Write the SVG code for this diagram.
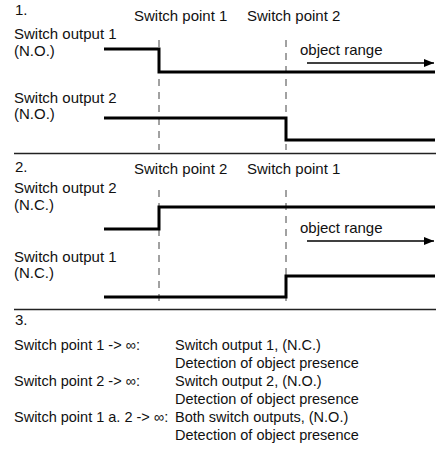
<svg xmlns="http://www.w3.org/2000/svg" width="442" height="452" viewBox="0 0 442 452">
<style>
text{font-family:"Liberation Sans",Arial,Helvetica,sans-serif;font-size:15px;fill:#111}
.t3{font-size:14.5px}
.sig{fill:none;stroke:#000;stroke-width:3}
.sep{stroke:#222;stroke-width:1.5}
.dash{stroke:#444;stroke-width:1;stroke-dasharray:7 6}
.arr{stroke:#000;stroke-width:1.5}
</style>
<defs>
<marker id="ah" viewBox="0 0 10 8" refX="10" refY="4" markerWidth="10" markerHeight="8" markerUnits="userSpaceOnUse" orient="auto">
<path d="M0,0 L10,4 L0,8 Z" fill="#000"/>
</marker>
</defs>
<g id="connectors">
<line class="dash" x1="159" y1="40" x2="159" y2="150"/>
<line class="dash" x1="286" y1="40" x2="286" y2="150"/>
<line class="dash" x1="159" y1="190" x2="159" y2="306"/>
<line class="dash" x1="286" y1="190" x2="286" y2="306"/>
<line class="sep" x1="14" y1="153.5" x2="436" y2="153.5"/>
<line class="sep" x1="14" y1="309.5" x2="436" y2="309.5"/>
<line class="arr" x1="307" y1="63" x2="434" y2="63" marker-end="url(#ah)"/>
<line class="arr" x1="307" y1="241" x2="434" y2="241" marker-end="url(#ah)"/>
</g>
<g id="section1">
<text x="15" y="15">1.</text>
<text x="134" y="21">Switch point 1</text>
<text x="247" y="21">Switch point 2</text>
<text x="14" y="39">Switch output 1</text>
<text x="14" y="56">(N.O.)</text>
<text x="300" y="55">object range</text>
<path class="sig" d="M104,49 H159 V72 H435"/>
<text x="14" y="103">Switch output 2</text>
<text x="14" y="119">(N.O.)</text>
<path class="sig" d="M104,118 H286 V140 H435"/>
</g>
<g id="section2">
<text x="15" y="172">2.</text>
<text x="134" y="174">Switch point 2</text>
<text x="247" y="174">Switch point 1</text>
<text x="14" y="193">Switch output 2</text>
<text x="14" y="210">(N.C.)</text>
<path class="sig" d="M104,229 H159 V207 H435"/>
<text x="300" y="233">object range</text>
<text x="14" y="262">Switch output 1</text>
<text x="14" y="278">(N.C.)</text>
<path class="sig" d="M104,297 H286 V276 H435"/>
</g>
<g id="section3">
<text x="15" y="325">3.</text>
<text class="t3" x="14" y="350">Switch point 1 -&gt; ∞:</text>
<text class="t3" x="175" y="350">Switch output 1, (N.C.)</text>
<text class="t3" x="175" y="368">Detection of object presence</text>
<text class="t3" x="14" y="386">Switch point 2 -&gt; ∞:</text>
<text class="t3" x="175" y="386">Switch output 2, (N.O.)</text>
<text class="t3" x="175" y="404">Detection of object presence</text>
<text class="t3" x="14" y="422">Switch point 1 a. 2 -&gt; ∞:</text>
<text class="t3" x="175" y="422">Both switch outputs, (N.O.)</text>
<text class="t3" x="175" y="440">Detection of object presence</text>
</g>
</svg>
